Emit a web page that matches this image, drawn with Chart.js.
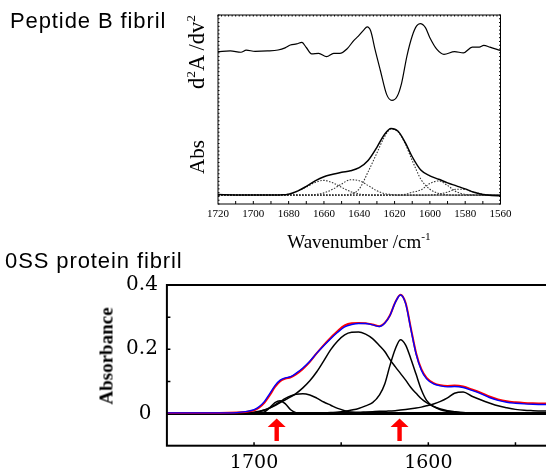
<!DOCTYPE html>
<html>
<head>
<meta charset="utf-8">
<script src="https://cdn.jsdelivr.net/npm/chart.js@4.4.1/dist/chart.umd.min.js"></script>
<style>
  html, body { margin: 0; padding: 0; background: #fff; width: 546px; height: 473px; overflow: hidden; }
  #wrap { position: relative; width: 546px; height: 473px; overflow: hidden; }
  canvas { position: absolute; }
  #topChart { left: 0; top: 0; }
  #bottomChart { left: 0; top: 250px; }
  .lbl { position: absolute; white-space: nowrap; color: #000; line-height: 1; }
  .sans { font-family: "Liberation Sans", Arial, sans-serif; letter-spacing: 0.9px; }
  .serif { font-family: "Liberation Serif", "Times New Roman", serif; }
  .rot { transform: translate(-50%, -50%) rotate(-90deg); }
  .ctr { transform: translate(-50%, -50%); }
  sup { font-size: 0.6em; vertical-align: 0.65em; line-height: 0; }
</style>
</head>
<body>
<div id="wrap">
  <canvas id="topChart" width="546" height="250"></canvas>
  <canvas id="bottomChart" width="609" height="223"></canvas>

  <div class="lbl sans" style="left:10px; top:10px; font-size:22px;">Peptide B fibril</div>
  <div class="lbl sans" style="left:5px; top:250px; font-size:22px;">0SS protein fibril</div>
  <div class="lbl serif rot" style="left:197px; top:52px; font-size:22.5px;">d<sup>2</sup>A /dv<sup>2</sup></div>
  <div class="lbl serif rot" style="left:197px; top:157px; font-size:21px;">Abs</div>
  <div class="lbl serif ctr" style="left:359px; top:241px; font-size:19px;">Wavenumber /cm<sup>-1</sup></div>
  <div class="lbl serif rot" style="left:106px; top:356px; font-size:19px; font-weight:bold;">Absorbance</div>
</div>

<script>
// ---- Peptide B fibril: second derivative (arbitrary units)
const d2Wavenumber = [1720, 1713, 1707, 1704, 1699, 1692, 1686, 1682, 1679, 1675.5,
  1672.5, 1670, 1667, 1663, 1658.5, 1654.5, 1651, 1647, 1643, 1640.5,
  1637.5, 1635.5, 1633.5, 1631, 1628, 1624.5, 1621.5, 1618.5, 1616, 1613,
  1610, 1607.5, 1605.5, 1602.5, 1600, 1596, 1592, 1586, 1581, 1576,
  1572, 1569.5, 1566, 1560];
const d2Signal = [80.6, 81.0, 80.3, 81.4, 80.8, 81.0, 81.5, 82.6, 84.1, 84.7,
  85.5, 82.8, 79.4, 79.7, 78.0, 79.7, 79.7, 82.0, 86.6, 88.8,
  92.0, 93.7, 91.5, 81.5, 70.5, 58.0, 54.8, 57.0, 64.0, 78.3,
  88.9, 94.2, 95.4, 93.3, 88.0, 81.8, 79.2, 80.6, 80.0, 83.0,
  83.0, 83.9, 83.0, 81.2];

// ---- Peptide B fibril: absorbance and fitted components (arbitrary units)
const absWavenumber = [1720, 1710, 1700, 1690, 1685, 1680, 1675, 1670, 1665, 1660,
  1655, 1650, 1645, 1640, 1635, 1630, 1626, 1622, 1618, 1614,
  1610, 1605, 1600, 1595, 1590, 1585, 1580, 1575, 1570, 1565, 1560];
const absTotal = [5.0, 4.8, 4.7, 4.7, 4.8, 5.2, 6.8, 9.3, 12.2, 14.4,
  15.7, 16.8, 17.6, 19.2, 23.0, 30.0, 36.4, 40.0, 38.5, 32.6,
  25.0, 17.8, 14.9, 13.1, 11.2, 9.6, 8.0, 6.2, 5.0, 4.5, 4.4];
const absBand1661 = [4.7, 4.7, 4.7, 4.7, 4.8, 5.3, 6.8, 9.0, 11.4, 12.5,
  11.2, 8.8, 6.6, 5.3, 4.8, 4.7, 4.7, 4.7, 4.7, 4.7,
  4.7, 4.7, 4.7, 4.7, 4.7, 4.7, 4.7, 4.7, 4.7, 4.7, 4.7];
const absBand1644 = [4.7, 4.7, 4.7, 4.7, 4.7, 4.7, 4.7, 4.7, 5.0, 5.9,
  7.8, 10.6, 12.8, 12.3, 9.8, 7.0, 5.6, 5.0, 4.7, 4.7,
  4.7, 4.7, 4.7, 4.7, 4.7, 4.7, 4.7, 4.7, 4.7, 4.7, 4.7];
const absBand1621 = [4.7, 4.7, 4.7, 4.7, 4.7, 4.7, 4.7, 4.7, 4.7, 4.7,
  4.7, 4.7, 5.2, 8.0, 17.0, 27.0, 35.0, 39.7, 38.2, 32.0,
  23.0, 13.0, 7.8, 5.6, 4.9, 4.7, 4.7, 4.7, 4.7, 4.7, 4.7];
const absBand1596 = [4.7, 4.7, 4.7, 4.7, 4.7, 4.7, 4.7, 4.7, 4.7, 4.7,
  4.7, 4.7, 4.7, 4.7, 4.7, 4.7, 4.7, 4.7, 4.8, 5.1,
  6.2, 7.5, 10.8, 12.2, 9.8, 6.5, 5.1, 4.8, 4.7, 4.7, 4.7];
const absBand1583 = [4.7, 4.7, 4.7, 4.7, 4.7, 4.7, 4.7, 4.7, 4.7, 4.7,
  4.7, 4.7, 4.7, 4.7, 4.7, 4.7, 4.7, 4.7, 4.7, 4.7,
  4.7, 4.7, 4.8, 5.2, 6.3, 7.8, 7.7, 6.3, 5.2, 4.8, 4.7];
const topTicks = [1720, 1700, 1680, 1660, 1640, 1620, 1600, 1580, 1560];
const topMinorTicks = [1710, 1700, 1690, 1680, 1670, 1660, 1650, 1640, 1630, 1620, 1610, 1600, 1590, 1580, 1570];

// ---- 0SS protein fibril: absorbance, fit and components
const ftirWavenumber = [1750, 1720, 1710, 1705, 1700, 1697, 1694, 1691, 1688, 1685,
  1682, 1679, 1676, 1672, 1668, 1664, 1660, 1656, 1652, 1648,
  1644, 1640, 1636, 1632, 1628, 1625, 1622, 1619, 1616, 1613,
  1610, 1607, 1604, 1601, 1597, 1593, 1589, 1585, 1580, 1575,
  1570, 1565, 1560, 1555, 1550, 1545, 1540, 1530, 1520, 1500];
const measured = [0.002, 0.002, 0.003, 0.005, 0.010, 0.019, 0.034, 0.057, 0.083, 0.101,
  0.109, 0.113, 0.122, 0.139, 0.161, 0.188, 0.213, 0.236, 0.257, 0.274,
  0.281, 0.282, 0.281, 0.277, 0.272, 0.282, 0.306, 0.346, 0.370, 0.344,
  0.265, 0.188, 0.138, 0.111, 0.095, 0.088, 0.086, 0.087, 0.084, 0.075,
  0.065, 0.053, 0.044, 0.038, 0.035, 0.033, 0.032, 0.031, 0.031, 0.031];
const fitted = [0.002, 0.002, 0.003, 0.006, 0.012, 0.022, 0.038, 0.062, 0.087, 0.104,
  0.111, 0.115, 0.125, 0.142, 0.163, 0.188, 0.211, 0.233, 0.253, 0.270,
  0.277, 0.280, 0.280, 0.276, 0.271, 0.281, 0.305, 0.345, 0.369, 0.342,
  0.262, 0.185, 0.135, 0.108, 0.092, 0.086, 0.083, 0.084, 0.081, 0.072,
  0.062, 0.050, 0.041, 0.035, 0.032, 0.030, 0.029, 0.028, 0.028, 0.028];
const band1686 = [0, 0, 0, 0, 0.001, 0.002, 0.005, 0.018, 0.034, 0.040,
  0.030, 0.012, 0.003, 0, 0, 0, 0, 0, 0, 0,
  0, 0, 0, 0, 0, 0, 0, 0, 0, 0,
  0, 0, 0, 0, 0, 0, 0, 0, 0, 0,
  0, 0, 0, 0, 0, 0, 0, 0, 0, 0];
const band1672 = [0, 0, 0, 0.001, 0.003, 0.006, 0.011, 0.018, 0.027, 0.037,
  0.047, 0.055, 0.060, 0.062, 0.058, 0.048, 0.036, 0.026, 0.016, 0.009,
  0.004, 0.001, 0, 0, 0, 0, 0, 0, 0, 0,
  0, 0, 0, 0, 0, 0, 0, 0, 0, 0,
  0, 0, 0, 0, 0, 0, 0, 0, 0, 0];
const band1641 = [0, 0, 0.001, 0.002, 0.004, 0.007, 0.011, 0.017, 0.025, 0.034,
  0.043, 0.052, 0.062, 0.080, 0.102, 0.130, 0.164, 0.199, 0.226, 0.245,
  0.253, 0.254, 0.247, 0.233, 0.211, 0.193, 0.168, 0.146, 0.125, 0.104,
  0.081, 0.063, 0.046, 0.034, 0.022, 0.014, 0.009, 0.006, 0.003, 0.002,
  0.001, 0, 0, 0, 0, 0, 0, 0, 0, 0];
const band1616 = [0, 0, 0, 0, 0, 0, 0, 0, 0, 0,
  0, 0, 0, 0, 0, 0, 0, 0.002, 0.004, 0.007,
  0.011, 0.016, 0.024, 0.034, 0.058, 0.092, 0.150, 0.200, 0.230, 0.213,
  0.170, 0.122, 0.074, 0.041, 0.022, 0.012, 0.007, 0.004, 0.002, 0.001,
  0, 0, 0, 0, 0, 0, 0, 0, 0, 0];
const band1581 = [0, 0, 0, 0, 0, 0.001, 0.001, 0.001, 0.001, 0.001,
  0.001, 0.001, 0.002, 0.002, 0.002, 0.002, 0.002, 0.003, 0.003, 0.003,
  0.004, 0.004, 0.005, 0.006, 0.007, 0.007, 0.008, 0.009, 0.011, 0.013,
  0.015, 0.017, 0.020, 0.024, 0.030, 0.038, 0.049, 0.063, 0.067, 0.054,
  0.043, 0.033, 0.024, 0.018, 0.013, 0.010, 0.009, 0.008, 0.008, 0.008];
const bottomTicks = [1750, 1700, 1650, 1600, 1550, 1500];
const bottomTickLabels = [1700, 1600];
const absTicks = [-0.1, 0, 0.1, 0.2, 0.3, 0.4];
const absTickLabels = { 0: '0 ', 0.2: '0.2', 0.4: '0.4' };
const arrowWavenumbers = [1687, 1616.5];

function toPoints(xs, ys) {
  return xs.map((x, i) => ({ x: x, y: ys[i] }));
}

// cadre + petites graduations internes
function frameTicks(cfg) {
  return {
    id: 'frameTicks',
    afterDatasetsDraw(chart) {
      const ctx = chart.ctx;
      const a = chart.chartArea;
      const x = chart.scales.x, y = chart.scales.y;
      ctx.save();
      ctx.strokeStyle = '#000';
      ctx.lineWidth = cfg.tickWidth;
      ctx.beginPath();
      cfg.bottom.forEach(v => {
        const px = x.getPixelForValue(v);
        ctx.moveTo(px, a.bottom);
        ctx.lineTo(px, a.bottom - cfg.tickLen);
      });
      cfg.left.forEach(v => {
        const py = y.getPixelForValue(v);
        ctx.moveTo(a.left, py);
        ctx.lineTo(a.left + cfg.tickLen, py);
      });
      if (cfg.fineStep) {
        for (let v = x.min; v <= x.max; v += cfg.fineStep) {
          const px = x.getPixelForValue(v);
          ctx.moveTo(px, a.top);
          ctx.lineTo(px, a.top + 1.5);
        }
        for (let v = y.min; v <= y.max; v += cfg.fineStep) {
          const py = y.getPixelForValue(v);
          ctx.moveTo(a.left, py);
          ctx.lineTo(a.left + 1.5, py);
          ctx.moveTo(a.right, py);
          ctx.lineTo(a.right - 1.5, py);
        }
      }
      ctx.stroke();
      ctx.lineWidth = cfg.frameWidth;
      ctx.strokeRect(a.left, a.top, a.right - a.left, a.bottom - a.top);
      ctx.restore();
    }
  };
}

// fleches rouges sous la ligne zero
const redArrows = {
  id: 'redArrows',
  afterDatasetsDraw(chart) {
    const ctx = chart.ctx;
    const x = chart.scales.x, y = chart.scales.y;
    const tip = y.getPixelForValue(-0.015);
    const base = y.getPixelForValue(-0.085);
    ctx.save();
    ctx.fillStyle = '#ff0000';
    arrowWavenumbers.forEach(v => {
      const px = x.getPixelForValue(v);
      ctx.beginPath();
      ctx.moveTo(px, tip);
      ctx.lineTo(px + 9, tip + 8.5);
      ctx.lineTo(px + 2.2, tip + 8.5);
      ctx.lineTo(px + 2.2, base);
      ctx.lineTo(px - 2.2, base);
      ctx.lineTo(px - 2.2, tip + 8.5);
      ctx.lineTo(px - 9, tip + 8.5);
      ctx.closePath();
      ctx.fill();
    });
    ctx.restore();
  }
};

Chart.defaults.color = '#000';
Chart.defaults.animation = false;

const dotted = { borderColor: '#333', borderWidth: 1.1, borderDash: [1.5, 1.5] };

new Chart(document.getElementById('topChart'), {
  type: 'line',
  data: {
    datasets: [
      { data: toPoints(d2Wavenumber, d2Signal), borderColor: '#000', borderWidth: 1.2, order: 0 },
      { data: toPoints(absWavenumber, absTotal), borderColor: '#000', borderWidth: 1.5, order: 1 },
      Object.assign({ data: toPoints(absWavenumber, absBand1661), order: 2 }, dotted),
      Object.assign({ data: toPoints(absWavenumber, absBand1644), order: 3 }, dotted),
      Object.assign({ data: toPoints(absWavenumber, absBand1621), order: 4 }, dotted),
      Object.assign({ data: toPoints(absWavenumber, absBand1596), order: 5 }, dotted),
      Object.assign({ data: toPoints(absWavenumber, absBand1583), order: 6 }, dotted)
    ]
  },
  options: {
    responsive: false,
    layout: { padding: { top: 15, right: 45.5, left: 0, bottom: 0 } },
    elements: { point: { radius: 0 }, line: { cubicInterpolationMode: 'monotone', fill: false } },
    plugins: { legend: { display: false }, tooltip: { enabled: false } },
    scales: {
      x: {
        type: 'linear', min: 1560, max: 1720, reverse: true,
        afterBuildTicks: s => { s.ticks = topTicks.map(v => ({ value: v })); },
        ticks: {
          font: { family: 'Liberation Serif', size: 11 }, padding: 3.5, maxRotation: 0, autoSkip: false,
          callback: v => String(v)
        },
        grid: { display: false, drawTicks: false },
        border: { display: false },
        afterFit: s => { s.height = 46; }
      },
      y: {
        min: 0, max: 100,
        ticks: { display: false },
        grid: { display: false, drawTicks: false },
        border: { display: false },
        afterFit: s => { s.width = 218; }
      }
    }
  },
  plugins: [frameTicks({
    frameWidth: 1, tickWidth: 1, tickLen: 3,
    bottom: topMinorTicks, left: [], fineStep: 2
  })]
});

new Chart(document.getElementById('bottomChart'), {
  type: 'line',
  data: {
    datasets: [
      { data: toPoints(ftirWavenumber, fitted), borderColor: '#0000ff', borderWidth: 1.4, order: 0 },
      { data: toPoints(ftirWavenumber, measured), borderColor: '#ff0000', borderWidth: 2, order: 1 },
      { data: toPoints(ftirWavenumber, band1686), borderColor: '#000', borderWidth: 1.5, order: 2 },
      { data: toPoints(ftirWavenumber, band1672), borderColor: '#000', borderWidth: 1.5, order: 3 },
      { data: toPoints(ftirWavenumber, band1641), borderColor: '#000', borderWidth: 1.5, order: 4 },
      { data: toPoints(ftirWavenumber, band1616), borderColor: '#000', borderWidth: 1.5, order: 5 },
      { data: toPoints(ftirWavenumber, band1581), borderColor: '#000', borderWidth: 1.5, order: 6 }
    ]
  },
  options: {
    responsive: false,
    layout: { padding: { top: 35, right: 0, left: 0, bottom: 0 } },
    elements: { point: { radius: 0 }, line: { cubicInterpolationMode: 'monotone', fill: false } },
    plugins: { legend: { display: false }, tooltip: { enabled: false } },
    scales: {
      x: {
        type: 'linear', min: 1500, max: 1750, reverse: true,
        afterBuildTicks: s => { s.ticks = bottomTicks.map(v => ({ value: v })); },
        ticks: {
          font: { family: 'DejaVu Serif', size: 19 }, padding: 6.4, maxRotation: 0, autoSkip: false,
          callback: v => bottomTickLabels.includes(v) ? String(v) : ''
        },
        grid: { display: false, drawTicks: false },
        border: { display: false },
        afterFit: s => { s.height = 27.3; }
      },
      y: {
        min: -0.1, max: 0.4,
        afterBuildTicks: s => { s.ticks = absTicks.map(v => ({ value: v })); },
        ticks: {
          font: { family: 'DejaVu Serif', size: 20 }, padding: 9, autoSkip: false,
          callback: v => (v in absTickLabels) ? absTickLabels[v] : ''
        },
        grid: {
          drawTicks: false,
          color: c => c.tick.value === 0 ? '#000' : 'rgba(0,0,0,0)',
          lineWidth: c => c.tick.value === 0 ? 3 : 1
        },
        border: { display: false },
        afterFit: s => { s.width = 166.9; }
      }
    }
  },
  plugins: [frameTicks({
    frameWidth: 2, tickWidth: 1.5, tickLen: 3.5,
    bottom: [1700, 1650, 1600, 1550], left: [0.1, 0.2, 0.3], fineStep: 0
  }), redArrows]
});
</script>
</body>
</html>
